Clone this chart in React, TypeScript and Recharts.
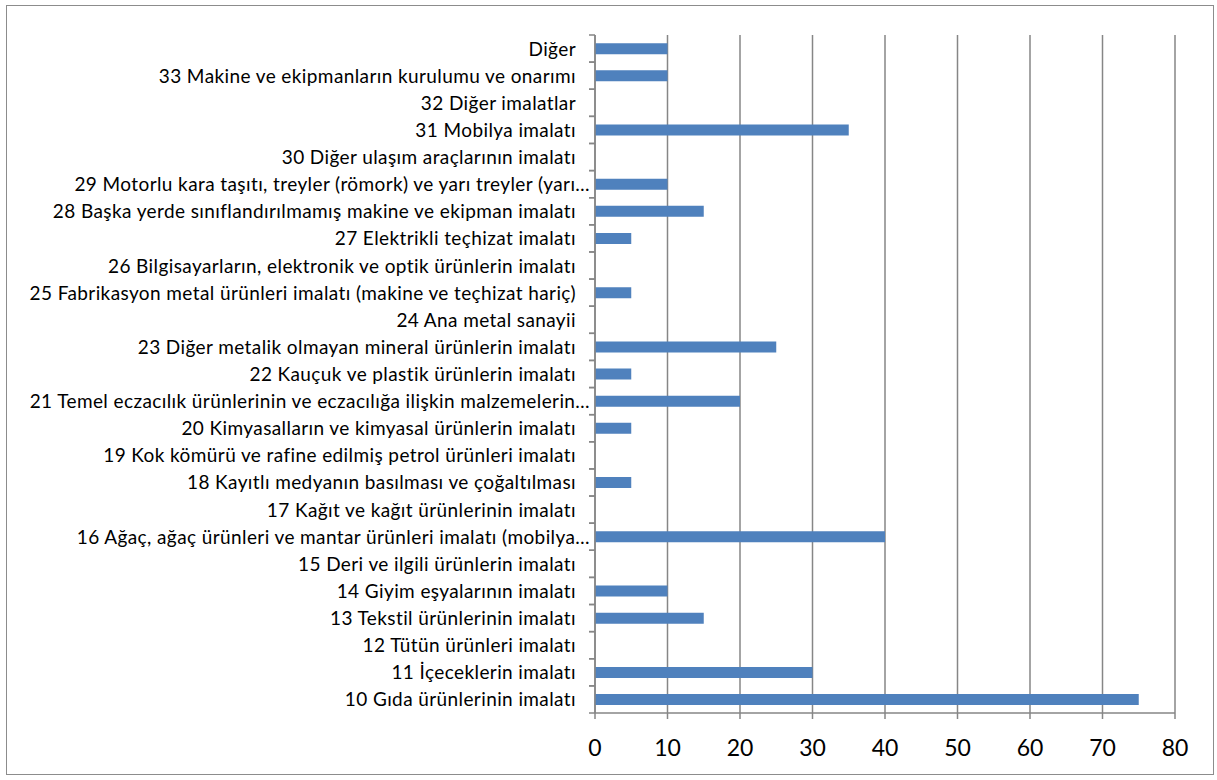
import React from "react";
import { BarChart, Bar, XAxis, YAxis, CartesianGrid } from "recharts";

const categories: string[] = [
  "10 Gıda ürünlerinin imalatı",
  "11 İçeceklerin imalatı",
  "12 Tütün ürünleri imalatı",
  "13 Tekstil ürünlerinin imalatı",
  "14 Giyim eşyalarının imalatı",
  "15 Deri ve ilgili ürünlerin imalatı",
  "16 Ağaç, ağaç ürünleri ve mantar ürünleri imalatı (mobilya…",
  "17 Kağıt ve kağıt ürünlerinin imalatı",
  "18 Kayıtlı medyanın basılması ve çoğaltılması",
  "19 Kok kömürü ve rafine edilmiş petrol ürünleri imalatı",
  "20 Kimyasalların ve kimyasal ürünlerin imalatı",
  "21 Temel eczacılık ürünlerinin ve eczacılığa ilişkin malzemelerin…",
  "22 Kauçuk ve plastik ürünlerin imalatı",
  "23 Diğer metalik olmayan mineral ürünlerin imalatı",
  "24 Ana metal sanayii",
  "25 Fabrikasyon metal ürünleri imalatı (makine ve teçhizat hariç)",
  "26 Bilgisayarların, elektronik ve optik ürünlerin imalatı",
  "27 Elektrikli teçhizat imalatı",
  "28 Başka yerde sınıflandırılmamış makine ve ekipman imalatı",
  "29 Motorlu kara taşıtı, treyler (römork) ve yarı treyler (yarı…",
  "30 Diğer ulaşım araçlarının imalatı",
  "31 Mobilya imalatı",
  "32 Diğer imalatlar",
  "33 Makine ve ekipmanların kurulumu ve onarımı",
  "Diğer",
];

const values: number[] = [
  75, 30, 0, 15, 10, 0, 40, 0, 5, 0, 5, 20, 5, 25, 0, 5, 0, 5, 15, 10, 0, 35, 0, 10, 10,
];

const xTicks: number[] = [0, 10, 20, 30, 40, 50, 60, 70, 80];

const data = categories.map((name, i) => ({ name, value: values[i] }));

const PLOT_LEFT = 595;
const PLOT_TOP = 35;
const PLOT_BOTTOM = 713;
const BAND = (PLOT_BOTTOM - PLOT_TOP) / categories.length;
const GRAY = "#868686";
const FONT = "Lato, 'Open Sans', sans-serif";

const CategoryTick = (props: any) => {
  const { y, payload } = props;
  const label: string = payload.value;
  const truncated = label.endsWith("…");
  return (
    <g>
      <line x1={PLOT_LEFT - 6} x2={PLOT_LEFT} y1={y - BAND / 2} y2={y - BAND / 2} stroke={GRAY} strokeWidth={1.5} />
      <line x1={PLOT_LEFT - 6} x2={PLOT_LEFT} y1={y + BAND / 2} y2={y + BAND / 2} stroke={GRAY} strokeWidth={1.5} />
      <text
        x={truncated ? PLOT_LEFT - 5 : PLOT_LEFT - 19}
        y={y}
        dy={7}
        textAnchor="end"
        fill="#000"
        fontSize={19}
        letterSpacing={0.4}
        fontFamily={FONT}
      >
        {label}
      </text>
    </g>
  );
};

export default function App() {
  return (
    <div style={{ position: "absolute", left: 0, top: 0, width: 1217, height: 780, background: "#fff" }}>
      <div
        style={{
          position: "absolute",
          left: 6,
          top: 5,
          width: 1208,
          height: 770,
          border: "1.5px solid #8c8c8c",
          boxSizing: "border-box",
        }}
      />
      <div style={{ position: "absolute", left: 0, top: 0 }}>
        <BarChart
          width={1217}
          height={780}
          data={data}
          layout="vertical"
          margin={{ top: PLOT_TOP, right: 1217 - 1175, bottom: 0, left: 0 }}
          barCategoryGap="30%"
        >
          <CartesianGrid horizontal={false} vertical={true} stroke={GRAY} strokeWidth={1.5} />
          <XAxis
            type="number"
            domain={[0, 80]}
            ticks={xTicks}
            interval={0}
            height={780 - PLOT_BOTTOM}
            axisLine={{ stroke: GRAY, strokeWidth: 1.5 }}
            tickLine={{ stroke: GRAY, strokeWidth: 1.5 }}
            tickSize={6}
            tickMargin={21}
            tick={{ fontSize: 23, fill: "#000", fontFamily: FONT }}
          />
          <YAxis
            type="category"
            dataKey="name"
            reversed
            width={PLOT_LEFT}
            interval={0}
            axisLine={{ stroke: GRAY, strokeWidth: 1.5 }}
            tickLine={false}
            tick={<CategoryTick />}
          />
          <Bar dataKey="value" fill="#4F81BD" isAnimationActive={false} />
        </BarChart>
      </div>
    </div>
  );
}
